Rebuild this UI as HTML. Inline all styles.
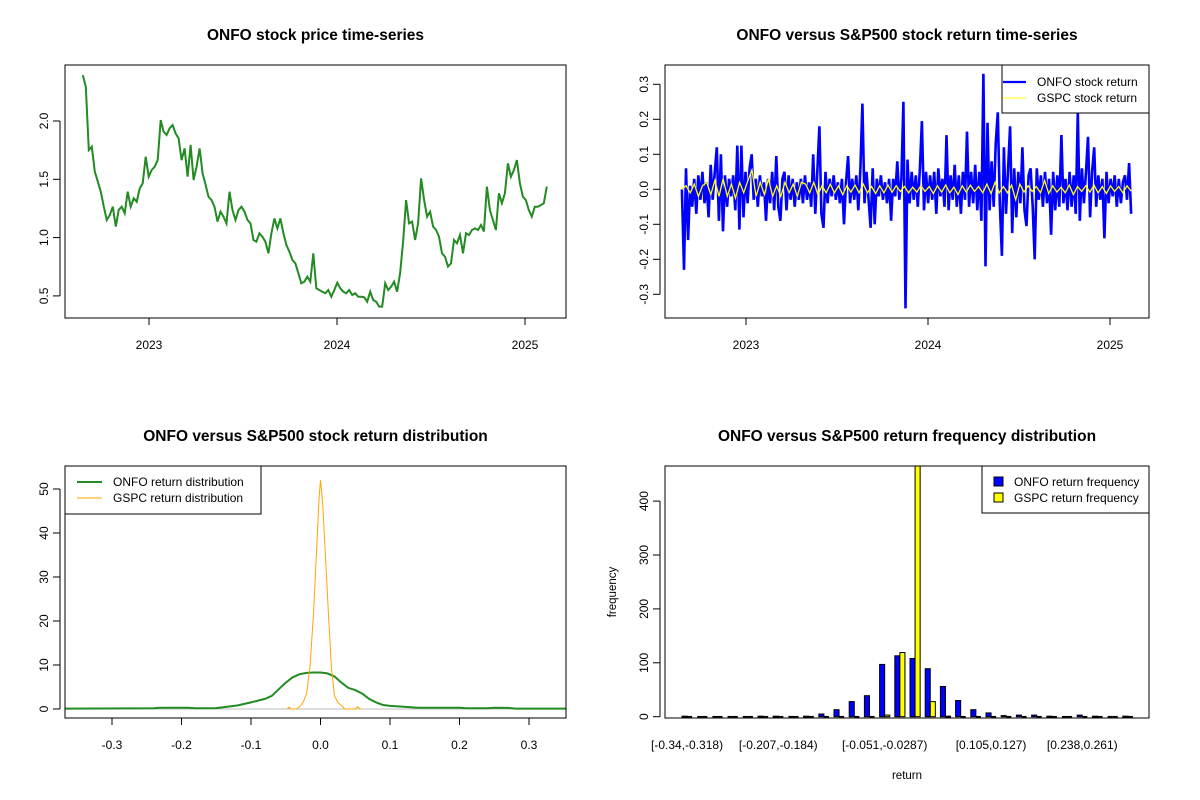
<!DOCTYPE html>
<html><head><meta charset="utf-8"><style>
html,body{margin:0;padding:0;background:#fff;}
svg{display:block;font-family:"Liberation Sans",sans-serif;}
</style></head><body>
<svg id="c" width="1200" height="800" viewBox="0 0 1200 800" xmlns="http://www.w3.org/2000/svg">
<rect x="0" y="0" width="1200" height="800" fill="#fff"/>
</svg>
<script>
// ---------- DATA ----------
const priceStart = 2022.648, priceEnd = 2025.116;
const onfoPrice = [2.394,2.294,1.751,1.78,1.565,1.48,1.394,1.265,1.151,1.194,1.265,1.094,1.237,1.265,1.208,1.394,1.265,1.337,1.308,1.422,1.465,1.694,1.522,1.58,1.608,1.665,2.008,1.908,1.88,1.937,1.966,1.894,1.851,1.665,1.765,1.522,1.794,1.494,1.608,1.765,1.551,1.451,1.351,1.322,1.265,1.137,1.222,1.179,1.122,1.394,1.237,1.151,1.237,1.265,1.222,1.151,1.122,0.979,0.965,1.037,1.008,0.965,0.865,1.037,1.165,1.079,1.165,1.037,0.936,0.879,0.808,0.779,0.694,0.608,0.622,0.665,0.622,0.865,0.565,0.551,0.536,0.522,0.551,0.493,0.551,0.613,0.565,0.536,0.522,0.551,0.508,0.522,0.493,0.493,0.488,0.45,0.536,0.465,0.45,0.408,0.408,0.608,0.551,0.579,0.622,0.536,0.694,0.965,1.322,1.122,1.137,0.979,1.122,1.508,1.322,1.179,1.222,1.094,1.065,1.008,0.865,0.836,0.751,0.779,0.979,0.951,1.022,0.865,1.037,1.022,1.065,1.079,1.065,1.108,1.052,1.437,1.237,1.151,1.065,1.38,1.294,1.38,1.637,1.522,1.58,1.665,1.465,1.351,1.322,1.237,1.179,1.265,1.265,1.279,1.294,1.437];
const retStart = 2022.648, retEnd = 2025.116;
const onfoReturn = [0.0,-0.23,0.06,-0.145,0.01,-0.05,0.03,-0.07,0.04,-0.03,
0.05,-0.04,0.02,-0.08,0.07,-0.03,0.05,0.12,-0.09,0.10,
-0.12,0.04,-0.05,0.03,-0.02,0.04,-0.06,0.125,-0.115,0.125,
-0.08,0.05,-0.04,0.06,0.10,-0.03,0.03,-0.05,0.04,-0.02,
0.02,-0.09,0.03,-0.04,0.05,-0.06,0.095,-0.05,-0.09,0.03,
0.05,-0.06,0.04,-0.03,0.03,-0.05,0.02,-0.03,0.03,-0.04,
0.04,-0.03,0.02,-0.05,0.10,-0.07,0.05,0.18,-0.07,-0.11,
0.05,-0.04,0.03,-0.02,0.04,-0.03,0.02,-0.04,0.03,-0.10,
0.02,0.095,-0.04,0.03,-0.03,0.04,-0.06,0.06,0.245,-0.04,
0.05,-0.03,-0.11,0.06,-0.10,0.03,-0.02,0.04,-0.03,0.02,
-0.04,0.03,-0.09,0.03,-0.02,0.08,-0.03,0.03,0.25,-0.34,
0.085,-0.04,0.05,-0.03,0.04,-0.05,0.06,0.195,-0.06,0.05,
-0.04,0.04,-0.03,0.05,-0.07,0.06,-0.02,0.03,-0.05,0.155,
-0.06,0.04,-0.03,0.07,-0.05,0.04,-0.07,0.05,-0.03,0.165,
-0.05,0.05,-0.04,0.07,-0.06,0.05,-0.09,0.33,-0.22,0.19,
-0.06,0.08,-0.05,0.13,0.22,-0.04,-0.19,0.12,-0.07,0.06,
0.18,-0.125,0.06,-0.08,0.05,-0.04,0.12,-0.06,-0.105,0.04,
0.06,-0.05,-0.2,0.06,-0.03,0.04,-0.05,0.05,-0.04,0.03,
-0.13,0.05,-0.06,0.04,-0.05,0.155,-0.04,0.03,-0.06,0.05,
-0.05,0.04,-0.07,0.22,-0.09,0.06,-0.04,0.05,0.15,-0.08,
0.05,0.12,-0.05,0.04,-0.03,0.03,-0.14,0.05,-0.04,0.03,
-0.02,0.04,-0.05,0.03,-0.04,0.02,0.04,-0.03,0.075,-0.07];
const gspcReturn = [0.0,0.01,-0.01,0.015,-0.02,0.01,0.02,-0.015,0.025,-0.02,
0.03,-0.02,0.015,-0.025,0.02,-0.01,0.025,0.055,-0.02,0.02,
-0.015,0.03,-0.02,0.01,-0.02,0.02,-0.01,0.015,-0.02,0.02,
0.015,-0.01,0.02,-0.015,0.01,-0.01,0.015,-0.01,0.01,-0.015,
0.01,-0.008,0.012,-0.01,0.015,-0.01,0.008,-0.012,0.01,-0.01,
0.012,-0.008,0.01,-0.006,0.008,-0.01,0.006,-0.008,0.01,-0.006,
0.008,-0.012,0.01,-0.008,0.012,-0.01,0.006,-0.015,0.01,-0.008,
0.012,-0.006,0.008,-0.01,0.015,-0.012,0.02,-0.01,0.008,-0.01,
0.012,-0.03,0.015,-0.008,0.01,-0.006,0.008,-0.01,0.025,-0.012,
0.01,-0.008,0.006,-0.01,0.012,-0.015,0.008,-0.006,0.01,-0.008,
0.012,-0.01,0.008,-0.012,0.01,-0.006,0.008,-0.01,0.01,-0.005];
const onfoDensX = [-0.368,-0.24,-0.23,-0.19,-0.18,-0.15,-0.14,-0.12,-0.10,-0.08,-0.07,-0.06,-0.05,-0.04,-0.03,-0.02,-0.01,0.0,0.01,0.02,0.03,0.04,0.05,0.06,0.07,0.08,0.09,0.10,0.12,0.14,0.20,0.21,0.24,0.25,0.27,0.28,0.353];
const onfoDensY = [0.1,0.15,0.3,0.3,0.15,0.2,0.4,0.8,1.5,2.3,3.0,4.5,6.0,7.2,7.9,8.2,8.3,8.3,8.1,7.4,6.0,4.8,4.3,3.5,2.3,1.5,0.9,0.7,0.5,0.3,0.3,0.15,0.15,0.3,0.25,0.1,0.1];
const gspcDensX = [-0.048,-0.045,-0.042,-0.035,-0.03,-0.025,-0.02,-0.015,-0.01,-0.005,-0.002,0.0,0.003,0.007,0.012,0.016,0.02,0.025,0.03,0.035,0.05,0.053,0.058];
const gspcDensY = [0,0.4,0,0,0.5,1.5,3.5,10,22,38,48,52,47,35,20,9,3,1.5,0.8,0,0,0.5,0];
const onfoFreq = [1,0,0,0,0,1,1,0,1,5,13,28,39,97,113,108,89,56,30,13,7,2,3,3,1,0,3,1,0,1];
const gspcFreq = [0,0,0,0,0,0,0,0,0,0,0,0,0,3,119,468,28,1,0,0,0,0,0,0,0,0,0,0,0,0];
const binLabels = {0:"[-0.34,-0.318)",6:"[-0.207,-0.184)",13:"[-0.051,-0.0287)",20:"[0.105,0.127)",26:"[0.238,0.261)"};
const yearTicks = [2023,2024,2025];
const priceTicks = [0.5,1.0,1.5,2.0];
const retTicks = [-0.3,-0.2,-0.1,0.0,0.1,0.2,0.3];
const densXTicks = [-0.3,-0.2,-0.1,0.0,0.1,0.2,0.3];
const densYTicks = [0,10,20,30,40,50];
const freqTicks = [0,100,200,300,400];

// ---------- HELPERS ----------
const svg = document.getElementById('c');
const NS = 'http://www.w3.org/2000/svg';
function mk(tag, attrs, parent){
  const e = document.createElementNS(NS, tag);
  for (const k in attrs) e.setAttribute(k, attrs[k]);
  (parent||svg).appendChild(e);
  return e;
}
function txt(s, x, y, opts, parent){
  const e = mk('text', Object.assign({x:x, y:y, 'font-size':12, 'text-anchor':'middle', fill:'#000'}, opts||{}), parent);
  e.textContent = s;
  return e;
}
function fmt1(v){ return v.toFixed(1); }

function panel(name, box, title){
  const g = mk('g', {});
  
  
  const t = txt(title, (box.x0+box.x1)/2, box.y0-25, {'font-size':15.5, 'font-weight':'bold'}, g);
  
  
  return g;
}
function frame(g, box){
  const r = mk('rect', {x:box.x0, y:box.y0, width:box.x1-box.x0, height:box.y1-box.y0, fill:'none', stroke:'#000', 'stroke-width':1}, g);
  
  
}
function yAxis(g, box, ticks, ys, labelFn){
  const ax = mk('g', {}, g);
  
  
  const ya = ys(ticks[0]), yb = ys(ticks[ticks.length-1]);
  mk('line', {x1:box.x0-5, x2:box.x0-5, y1:ya, y2:yb, stroke:'#000'}, ax);
  ticks.forEach(v => {
    const y = ys(v);
    mk('line', {x1:box.x0-12, x2:box.x0-5, y1:y, y2:y, stroke:'#000'}, ax);
    const lx = box.x0-21;
    const t = txt(labelFn(v), lx, y, {transform:`rotate(-90 ${lx} ${y})`}, ax);
    t.setAttribute('dy', '4');
    
    
  });
}
function xAxis(g, box, ticks, xs, labelFn){
  const ax = mk('g', {}, g);
  
  
  ticks.forEach(v => {
    const x = xs(v);
    mk('line', {x1:x, x2:x, y1:box.y1, y2:box.y1+7, stroke:'#000'}, ax);
    const t = txt(labelFn(v), x, box.y1+31, {}, ax);
    
    
  });
}
function clip(id, box){
  const cp = mk('clipPath', {id:id});
  mk('rect', {x:box.x0, y:box.y0, width:box.x1-box.x0, height:box.y1-box.y0}, cp);
}
function linePath(xsArr, ysArr){
  return xsArr.map((x,i)=>(i?'L':'M')+x.toFixed(1)+','+ysArr[i].toFixed(1)).join('');
}

// ---------- PANEL 1: price ----------
{
  const box = {x0:65, x1:566, y0:65, y1:318};
  const g = panel('price-panel', box, 'ONFO stock price time-series');
  const xs = t => 149 + (t-2023)*188;
  const ys = v => 121 + (2.0-v)*116.6;
  clip('cp1', box);
  const n = onfoPrice.length;
  const px = onfoPrice.map((v,i)=> xs(priceStart + (priceEnd-priceStart)*i/(n-1)));
  const py = onfoPrice.map(ys);
  const p = mk('path', {d:linePath(px,py), fill:'none', stroke:'#228b22', 'stroke-width':2, 'clip-path':'url(#cp1)'}, g);
  
  
  frame(g, box);
  yAxis(g, box, priceTicks, ys, fmt1);
  xAxis(g, box, yearTicks, xs, v=>String(v));
}

// ---------- PANEL 2: returns ----------
{
  const box = {x0:665, x1:1149, y0:65, y1:318};
  const g = panel('return-timeseries-panel', box, 'ONFO versus S&P500 stock return time-series');
  const xs = t => 746 + (t-2023)*182;
  const ys = v => 189.3 - v*350;
  clip('cp2', box);
  const n = onfoReturn.length;
  const ox = onfoReturn.map((v,i)=> xs(retStart + (retEnd-retStart)*i/(n-1)));
  const p = mk('path', {d:linePath(ox, onfoReturn.map(ys)), fill:'none', stroke:'#0000ff', 'stroke-width':2.6, 'clip-path':'url(#cp2)'}, g);
  
  
  const m = gspcReturn.length;
  const gx = gspcReturn.map((v,i)=> xs(retStart + (retEnd-retStart)*i/(m-1)));
  const q = mk('path', {d:linePath(gx, gspcReturn.map(ys)), fill:'none', stroke:'#ffff00', 'stroke-width':1.3, 'clip-path':'url(#cp2)'}, g);
  
  
  frame(g, box);
  yAxis(g, box, retTicks, ys, fmt1);
  xAxis(g, box, yearTicks, xs, v=>String(v));
  const lg = mk('g', {}, g);
  
  
  mk('rect', {x:1002, y:65, width:147, height:48, fill:'#fff', stroke:'#000'}, lg);
  mk('line', {x1:1003, x2:1026, y1:82, y2:82, stroke:'#0000ff', 'stroke-width':2.2}, lg);
  mk('line', {x1:1003, x2:1026, y1:98, y2:98, stroke:'#ffff00', 'stroke-width':1}, lg);
  const a = txt('ONFO stock return', 1037, 86, {'text-anchor':'start'}, lg);
  
  
  const b = txt('GSPC stock return', 1037, 102, {'text-anchor':'start'}, lg);
  
  
}

// ---------- PANEL 3: density ----------
{
  const box = {x0:65, x1:566, y0:466, y1:718};
  const g = panel('density-panel', box, 'ONFO versus S&P500 stock return distribution');
  const xs = v => 320.5 + v*695;
  const ys = v => 709 - v*4.4;
  clip('cp3', box);
  const z = mk('line', {x1:box.x0, x2:box.x1, y1:ys(0), y2:ys(0), stroke:'#bebebe', 'stroke-width':1}, g);
  
  
  const p = mk('path', {d:linePath(onfoDensX.map(xs), onfoDensY.map(ys)), fill:'none', stroke:'#228b22', 'stroke-width':2, 'clip-path':'url(#cp3)'}, g);
  
  
  const q = mk('path', {d:linePath(gspcDensX.map(xs), gspcDensY.map(ys)), fill:'none', stroke:'#ffa500', 'stroke-width':1, 'clip-path':'url(#cp3)'}, g);
  
  
  frame(g, box);
  yAxis(g, box, densYTicks, ys, v=>String(v));
  xAxis(g, box, densXTicks, xs, fmt1);
  const lg = mk('g', {}, g);
  
  
  mk('rect', {x:65, y:466, width:196, height:48, fill:'#fff', stroke:'#000'}, lg);
  mk('line', {x1:77, x2:102, y1:482, y2:482, stroke:'#228b22', 'stroke-width':2}, lg);
  mk('line', {x1:77, x2:102, y1:498, y2:498, stroke:'#ffa500', 'stroke-width':1}, lg);
  const a = txt('ONFO return distribution', 113, 486, {'text-anchor':'start'}, lg);
  
  
  const b = txt('GSPC return distribution', 113, 502, {'text-anchor':'start'}, lg);
  
  
}

// ---------- PANEL 4: histogram ----------
{
  const box = {x0:665, x1:1149, y0:466, y1:718};
  const g = panel('frequency-panel', box, 'ONFO versus S&P500 return frequency distribution');
  const bw = 5.07;
  const gx = i => 682 + i*15.2;
  const ys = v => 716.7 - v*0.539;
  clip('cp4', box);
  function bar(x, v, fill, name){
    if (v <= 0) {
      const l = mk('line', {x1:x, x2:x+bw, y1:ys(0), y2:ys(0), stroke:'#000', 'stroke-width':1.5}, g);
      
      
      return;
    }
    const r = mk('rect', {x:x, y:ys(v), width:bw, height:Math.max(ys(0)-ys(v),1), fill:fill, stroke:'#000', 'stroke-width':1, 'clip-path':'url(#cp4)'}, g);
    
    
  }
  onfoFreq.forEach((v,i)=> bar(gx(i), v, '#0000ff', 'bar-onfo'));
  gspcFreq.forEach((v,i)=> bar(gx(i)+bw, v, '#ffff00', 'bar-gspc'));
  frame(g, box);
  yAxis(g, box, freqTicks, ys, v=>String(v));
  for (const k in binLabels){
    const t = txt(binLabels[k], gx(+k)+bw, 749, {}, g);
    
    
  }
  const xt = txt('return', 907, 779, {'font-size':11.5}, g);
  
  
  const yt = txt('frequency', 616, 592, {'font-size':11.5, transform:'rotate(-90 616 592)'}, g);
  
  
  const lg = mk('g', {}, g);
  
  
  mk('rect', {x:982, y:466, width:167, height:47, fill:'#fff', stroke:'#000'}, lg);
  mk('rect', {x:994, y:477, width:9, height:9, fill:'#0000ff', stroke:'#000'}, lg);
  mk('rect', {x:994, y:493, width:9, height:9, fill:'#ffff00', stroke:'#000'}, lg);
  const a = txt('ONFO return frequency', 1014, 486, {'text-anchor':'start'}, lg);
  
  
  const b = txt('GSPC return frequency', 1014, 502, {'text-anchor':'start'}, lg);
  
  
}
</script>
</body></html>
